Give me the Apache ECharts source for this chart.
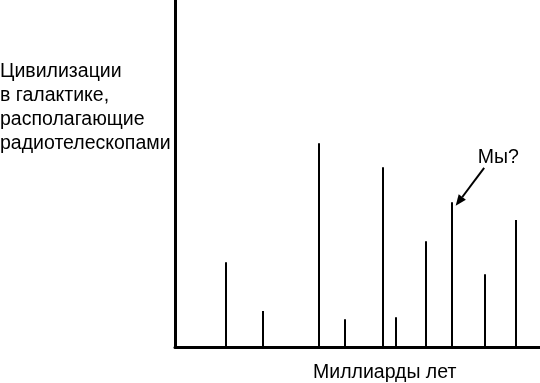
<!DOCTYPE html>
<html><head><meta charset="utf-8">
<script src="https://cdn.jsdelivr.net/npm/echarts@6/dist/echarts.min.js"></script>
<style>html,body{margin:0;padding:0;background:#fff}#c{width:540px;height:383px}</style>
</head><body><div id="c"></div>
<script>
// Positions along time axis (arbitrary units 0..100) and heights (0..100)
const times = [14.0, 24.0, 39.4, 46.6, 56.9, 60.5, 68.7, 75.9, 84.8, 93.3];
const counts = [24.4, 10.4, 58.7, 8.0, 51.8, 8.6, 30.5, 41.7, 21.0, 36.6];
const yLabelLines = ['Цивилизации', 'в галактике,', 'располагающие', 'радиотелескопами'];
const xLabel = 'Миллиарды лет';
const noteText = 'Мы?';
const noteFrom = [84.7, 51.6];
const noteTo = [76.9, 40.7];
const notePos = [88.6, 54.6];

const data = times.map((t, i) => [t, counts[i]]);
const chart = echarts.init(document.getElementById('c'), null, {renderer: 'canvas'});
const font = 'Liberation Sans, Arial, sans-serif';
chart.setOption({
  animation: false,
  grid: {left: 175, right: 0, top: 0, bottom: 36},
  xAxis: {type: 'value', min: 0, max: 100, axisLine: {show: true, onZero: false, lineStyle: {color: '#000', width: 3}},
    axisTick: {show: false}, axisLabel: {show: false}, splitLine: {show: false}},
  yAxis: {type: 'value', min: 0, max: 100, axisLine: {show: true, onZero: false, lineStyle: {color: '#000', width: 3}},
    axisTick: {show: false}, axisLabel: {show: false}, splitLine: {show: false}},
  series: [{
    type: 'custom',
    data: data,
    renderItem: function (params, api) {
      const top = api.coord([api.value(0), api.value(1)]);
      const base = api.coord([api.value(0), 0]);
      return {type: 'line', shape: {x1: Math.round(top[0]), y1: top[1], x2: Math.round(base[0]), y2: base[1]},
        style: {stroke: '#000', lineWidth: 2}};
    },
    markPoint: {
      symbol: 'circle', symbolSize: 0,
      label: {show: true, formatter: noteText, color: '#000', fontSize: 19.5, fontFamily: font},
      data: [{coord: notePos}]
    }
  }, {
    type: 'custom',
    clip: false,
    data: [[noteFrom[0], noteFrom[1], noteTo[0], noteTo[1]]],
    renderItem: function (params, api) {
      const a = api.coord([api.value(0), api.value(1)]);
      const b = api.coord([api.value(2), api.value(3)]);
      const dx = b[0] - a[0], dy = b[1] - a[1];
      const len = Math.sqrt(dx * dx + dy * dy);
      const ux = dx / len, uy = dy / len;
      const hl = 11, hw = 4.5;
      const bx = b[0] - ux * hl, by = b[1] - uy * hl;
      return {type: 'group', children: [
        {type: 'line', shape: {x1: a[0], y1: a[1], x2: bx, y2: by}, style: {stroke: '#000', lineWidth: 2}},
        {type: 'polygon', shape: {points: [[b[0], b[1]], [bx - uy * hw, by + ux * hw], [bx + uy * hw, by - ux * hw]]},
          style: {fill: '#000'}}
      ]};
    }
  }],
  graphic: [
    {type: 'text', left: 0, top: 60, style: {text: yLabelLines.join('\n'), fill: '#000', font: '19.5px ' + font, lineHeight: 24}},
    {type: 'text', left: 313, top: 363, style: {text: xLabel, fill: '#000', font: '19.5px ' + font}}
  ]
});
</script></body></html>
